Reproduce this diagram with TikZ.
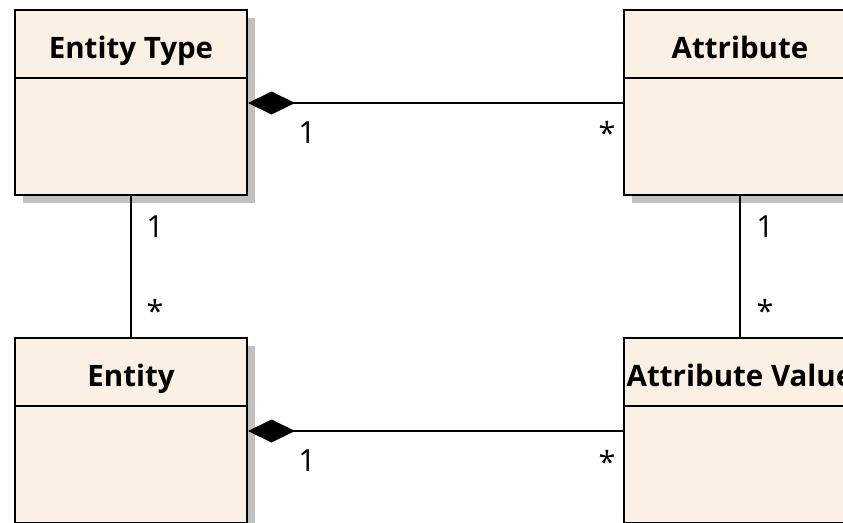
\documentclass[tikz,border=0pt]{standalone}
\usepackage{fontspec}
\setmainfont{Open Sans}
\usetikzlibrary{shadows,arrows.meta}

\definecolor{boxfill}{RGB}{250,240,227}
\definecolor{boxshade}{RGB}{192,192,192}

\begin{document}
\begin{tikzpicture}
[x=1pt,y=-1pt,
 classbox/.style={draw,line width=2pt,fill=boxfill,anchor=north west,
   minimum width=232pt,minimum height=185pt,inner sep=0pt,
   drop shadow={shadow xshift=8pt,shadow yshift=-8pt,fill=boxshade,opacity=1}},
 title/.style={font=\bfseries\fontsize{29.5}{32}\selectfont,anchor=base,inner sep=0pt},
 mult/.style={font=\fontsize{30.5}{32}\selectfont,anchor=base,inner sep=0pt},
 link/.style={line width=2pt},
 owner/.style={link,{Diamond[length=47pt,width=23pt]}-}]
\useasboundingbox (0,0) rectangle (843,522);
\clip (0,0) rectangle (843,522);

% the four classes
\node[classbox] (etype) at (14,9) {};
\node[classbox] (attr) at (623,9) {};
\node[classbox] (ent) at (14,337) {};
\node[classbox] (aval) at (623,337) {};

\foreach \b/\t in {etype/Entity Type,attr/Attribute,ent/Entity,aval/Attribute Value} {
  \draw[link] ([yshift=-69pt]\b.north west) -- ([yshift=-69pt]\b.north east);
  \node[title] (\b-name) at ([yshift=-49pt]\b.north) {\t};
}

% associations
\draw[owner] ([yshift=-94pt]etype.north east) -- ([yshift=-94pt]attr.north west);
\draw[owner] ([yshift=-94pt]ent.north east) -- ([yshift=-94pt]aval.north west);
\draw[link] (etype.south) -- (ent.north);
\draw[link] (attr.south) -- (aval.north);

% multiplicities
\node[mult] (m1) at (307,143) {1};
\node[mult] (m2) at (607,144) {*};
\node[mult] (m3) at (155,237) {1};
\node[mult] (m4) at (155,322) {*};
\node[mult] (m5) at (765,237) {1};
\node[mult] (m6) at (765,322) {*};
\node[mult] (m7) at (307,471) {1};
\node[mult] (m8) at (607,473) {*};
\end{tikzpicture}
\end{document}
